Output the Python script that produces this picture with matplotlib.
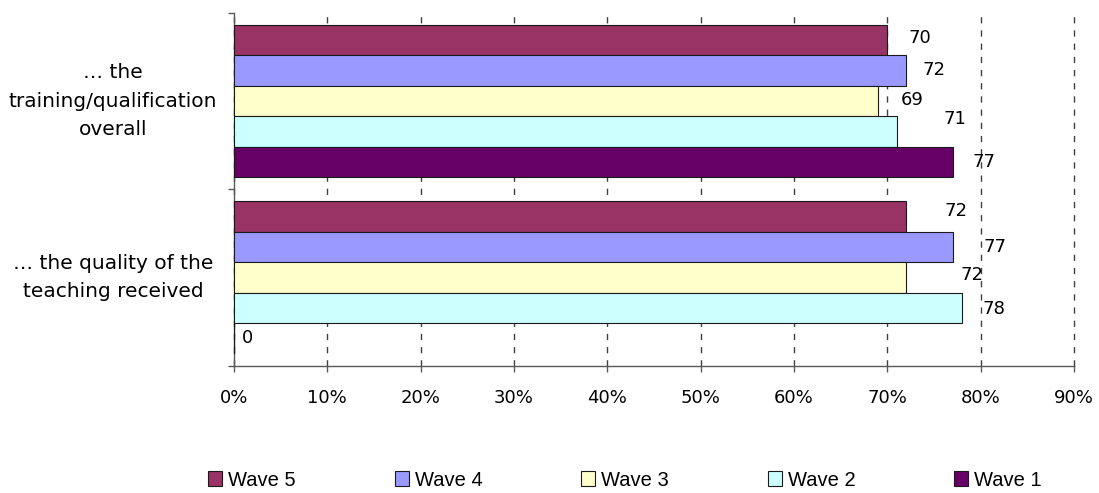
import matplotlib
matplotlib.use('Agg')
import matplotlib.pyplot as plt
import matplotlib.transforms as mtransforms
from matplotlib.patches import Patch

# Satisfaction scores per wave, in percent.
categories = ['\u2026 the\ntraining/qualification\noverall',
              '\u2026 the quality of the\nteaching received']
waves = ['Wave 5', 'Wave 4', 'Wave 3', 'Wave 2', 'Wave 1']
wave5 = [70, 72]
wave4 = [72, 77]
wave3 = [69, 72]
wave2 = [71, 78]
wave1 = [77, 0]
x_ticks = [0, 10, 20, 30, 40, 50, 60, 70, 80, 90]
x_tick_labels = ['%d%%' % t for t in x_ticks]

colors = ['#993366', '#9999FF', '#FFFFCC', '#CCFFFF', '#660066']

# Per-label nudges (pixels right, pixels up) for the value labels.
label_nudge = [
	[(21, 2), (17, 1), (23, 1), (47, 13), (20, 0)],
	[(39, 6), (31, 0), (54, 3), (21, -1), (8, 0)],
]

plt.rcParams['font.family'] = ['DejaVu Sans']

fig = plt.figure(figsize=(10.99, 4.93), dpi=100)
ax = fig.add_axes([234 / 1099, 1 - 365.7 / 493, 840 / 1099, 352.7 / 493])

series = [wave5, wave4, wave3, wave2, wave1]
bar_h = 30.4 / 176
gap = 12 / 176

for i, vals in enumerate(series):
	ys = [c + gap + bar_h * (i + 0.5) for c in range(len(categories))]
	ax.barh(ys, vals, height=bar_h, color=colors[i], edgecolor='#1a1a1a',
			linewidth=0.8, zorder=3)
	for c, (y, v) in enumerate(zip(ys, vals)):
		dx, dy = label_nudge[c][i]
		ax.annotate('%d' % v, xy=(v, y), xytext=(dx, dy),
					textcoords='offset pixels', ha='left', va='center',
					fontsize=13, color='black', zorder=4)

ax.set_xlim(0, 90)
ax.set_ylim(len(categories), 0)

ax.set_xticks(x_ticks)
ax.set_xticklabels(x_tick_labels, fontsize=13)
ax.set_yticks(range(len(categories) + 1))
ax.set_yticklabels([])
ax.tick_params(axis='x', direction='out', length=4, width=1, color='#595959', pad=13)
ax.tick_params(axis='y', direction='out', length=4, width=1, color='#595959')

# Category names, centred in the space left of the axis.
trans = mtransforms.blended_transform_factory(ax.transAxes, ax.transData)
for c, name in enumerate(categories):
	ax.text(-0.144, c + 0.5, name, transform=trans, ha='center', va='center',
			fontsize=14.5, linespacing=1.62, multialignment='center')

ax.xaxis.grid(True, color='#404040', linestyle=(0, (4.5, 5)), linewidth=1, zorder=0)
for line in ax.get_xgridlines():
	line.set_clip_on(False)
ax.set_axisbelow(True)

for side in ['top', 'right']:
	ax.spines[side].set_visible(False)
for side in ['left', 'bottom']:
	ax.spines[side].set_color('#595959')
	ax.spines[side].set_linewidth(1)

handles = [Patch(facecolor=colors[i], edgecolor='#1a1a1a', linewidth=0.8,
				 label=waves[i]) for i in range(len(waves))]
fig.legend(handles=handles, loc='center', bbox_to_anchor=(625 / 1099, 1 - 480 / 493),
		   ncol=5, frameon=False, handlelength=0.7, handleheight=0.7,
		   handletextpad=0.3, columnspacing=4.9,
		   prop={'family': 'Liberation Sans', 'size': 14.5})

fig.savefig('out.png', dpi=100)
